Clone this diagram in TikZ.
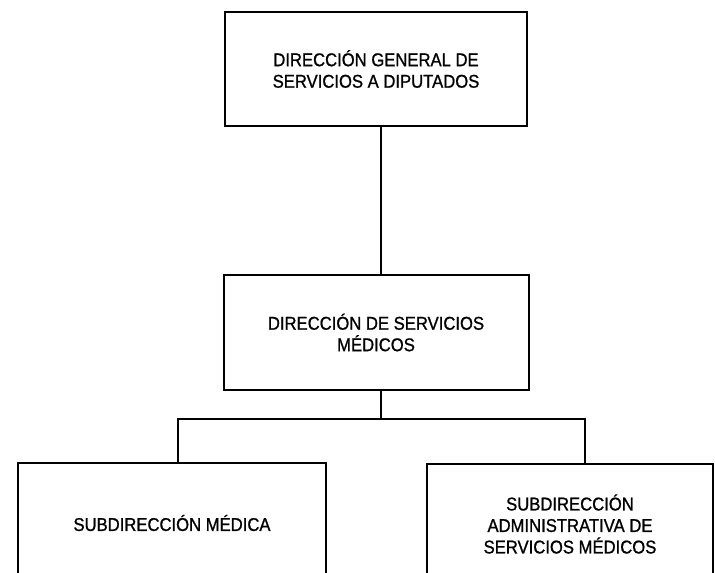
\documentclass[tikz,border=0pt]{standalone}
\usepackage{fontspec}
\setmainfont[FakeStretch=0.9, FakeBold=1]{Liberation Sans}
\usetikzlibrary{positioning}
\tikzset{
  unit/.style={rectangle, draw, line width=2pt, align=center, font=\fontsize{18.5}{21.5}\selectfont, inner sep=2pt},
  link/.style={line width=2pt}
}

\begin{document}
\begin{tikzpicture}[x=1pt, y=-1pt]
\useasboundingbox (0,0) rectangle (715,573);
\clip (0,0) rectangle (715,573);
\node[unit, minimum width=302pt, minimum height=114pt] (dg) at (376,69) {DIRECCIÓN GENERAL DE\\SERVICIOS A DIPUTADOS};
\node[unit, minimum width=305pt, minimum height=115pt, below=147pt of dg] (dsm) {DIRECCIÓN DE SERVICIOS\\MÉDICOS};

\node[unit, minimum width=308pt, minimum height=120pt, anchor=north west] (smed) at (17,462) {SUBDIRECCIÓN MÉDICA};
\node[unit, minimum width=286pt, minimum height=120pt, anchor=north west] (sadm) at (426,463) {SUBDIRECCIÓN\\ADMINISTRATIVA DE\\SERVICIOS MÉDICOS};

\coordinate (spine) at (381,419);
\draw[link] (dg.south -| spine) -- (dsm.north -| spine);
\draw[link] (dsm.south -| spine) -- (spine);
\draw[link] ([xshift=6pt]smed.north) |- (spine) -| ([xshift=15pt]sadm.north);
\end{tikzpicture}
\end{document}
